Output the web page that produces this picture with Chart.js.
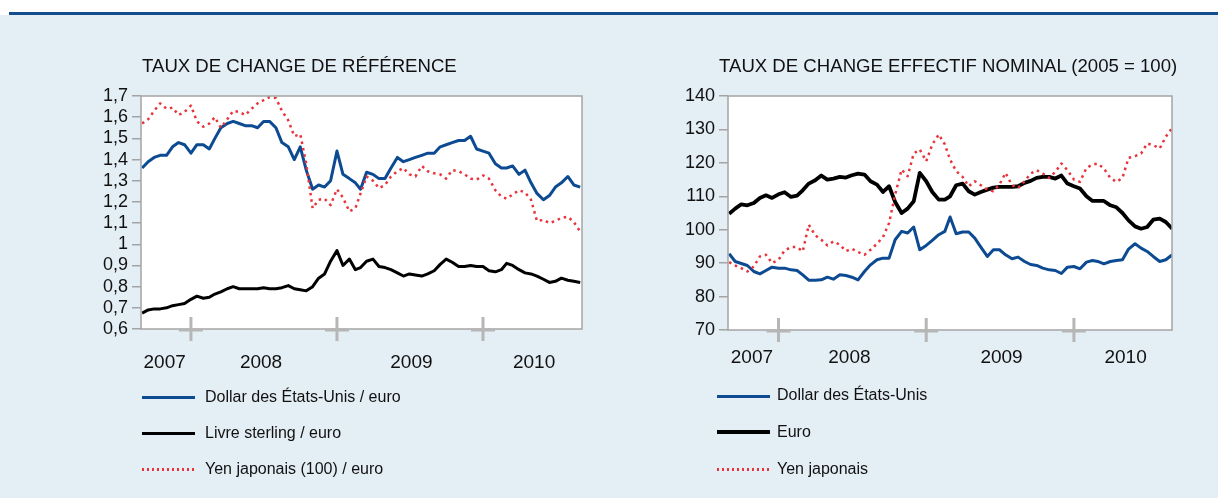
<!DOCTYPE html>
<html>
<head>
<meta charset="utf-8">
<script src="https://cdn.jsdelivr.net/npm/chart.js@4/dist/chart.umd.min.js"></script>
<style>
  body { margin: 0; width: 1218px; height: 498px; background: #fff; overflow: hidden;
         font-family: "Liberation Sans", Arial, sans-serif; color: #111; }
  #rule { position: absolute; left: 9px; right: 0; top: 12px; height: 3px; background: #124d8e; }
  #panel { position: absolute; left: 0; right: 0; top: 15px; bottom: 0; background: #e4eef5; }
  .box { position: absolute; top: 0; width: 609px; height: 498px; }
  .title { position: absolute; top: 57px; font-size: 18.6px; line-height: 18px; white-space: nowrap; }
  .swatch { position: absolute; width: 53px; }
  .ltext { position: absolute; font-size: 16px; line-height: 18px; white-space: nowrap; }
</style>
</head>
<body>
<div id="rule"></div>
<div id="panel"></div>
<div class="box" style="left:0"><canvas id="refChart"></canvas></div>
<div class="box" style="left:609px"><canvas id="effChart"></canvas></div>
<div class="title" style="left:142px">TAUX DE CHANGE DE RÉFÉRENCE</div>
<div class="title" style="left:719px">TAUX DE CHANGE EFFECTIF NOMINAL (2005 = 100)</div>

<div class="swatch" style="left:142px;top:396px;height:3px;background:#0c4a91"></div>
<div class="ltext" style="left:205px;top:388px">Dollar des États-Unis / euro</div>
<div class="swatch" style="left:142px;top:432px;height:2.5px;background:#000"></div>
<div class="ltext" style="left:205px;top:424px">Livre sterling / euro</div>
<div class="swatch" style="left:142px;top:468px;height:2.5px;background:repeating-linear-gradient(to right,#e8333a 0 2.5px,transparent 2.5px 5px)"></div>
<div class="ltext" style="left:205px;top:460px">Yen japonais (100) / euro</div>

<div class="swatch" style="left:717px;top:395px;height:2.5px;background:#0c4a91"></div>
<div class="ltext" style="left:777px;top:386px">Dollar des États-Unis</div>
<div class="swatch" style="left:717px;top:430px;height:3.5px;background:#000"></div>
<div class="ltext" style="left:777px;top:423px">Euro</div>
<div class="swatch" style="left:717px;top:468px;height:2.5px;background:repeating-linear-gradient(to right,#e8333a 0 2.5px,transparent 2.5px 5px)"></div>
<div class="ltext" style="left:777px;top:460px">Yen japonais</div>

<script>
// half-monthly observations, Sept 2007 - Sept 2010
const dates = [
  '2007-09-01','2007-09-16','2007-10-01','2007-10-16','2007-11-01','2007-11-16','2007-12-01','2007-12-16',
  '2008-01-01','2008-01-16','2008-02-01','2008-02-16','2008-03-01','2008-03-16','2008-04-01','2008-04-16',
  '2008-05-01','2008-05-16','2008-06-01','2008-06-16','2008-07-01','2008-07-16','2008-08-01','2008-08-16',
  '2008-09-01','2008-09-16','2008-10-01','2008-10-16','2008-11-01','2008-11-16','2008-12-01','2008-12-16',
  '2009-01-01','2009-01-16','2009-02-01','2009-02-16','2009-03-01','2009-03-16','2009-04-01','2009-04-16',
  '2009-05-01','2009-05-16','2009-06-01','2009-06-16','2009-07-01','2009-07-16','2009-08-01','2009-08-16',
  '2009-09-01','2009-09-16','2009-10-01','2009-10-16','2009-11-01','2009-11-16','2009-12-01','2009-12-16',
  '2010-01-01','2010-01-16','2010-02-01','2010-02-16','2010-03-01','2010-03-16','2010-04-01','2010-04-16',
  '2010-05-01','2010-05-16','2010-06-01','2010-06-16','2010-07-01','2010-07-16','2010-08-01','2010-08-16',
  '2010-09-01'
]

// left chart: reference rates
const usdEur = [
  1.36,1.39,1.41,1.42,1.42,1.46,1.48,1.47,1.43,1.47,
  1.47,1.45,1.50,1.55,1.57,1.58,1.57,1.56,1.56,1.55,
  1.58,1.58,1.55,1.48,1.46,1.40,1.46,1.35,1.26,1.28,
  1.27,1.30,1.44,1.33,1.31,1.29,1.26,1.34,1.33,1.31,
  1.31,1.36,1.41,1.39,1.40,1.41,1.42,1.43,1.43,1.46,
  1.47,1.48,1.49,1.49,1.51,1.45,1.44,1.43,1.38,1.36,
  1.36,1.37,1.33,1.35,1.29,1.24,1.21,1.23,1.27,1.29,
  1.32,1.28,1.27
]
const gbpEur = [
  0.675,0.69,0.695,0.695,0.70,0.71,0.715,0.72,0.74,0.755,
  0.745,0.75,0.765,0.775,0.79,0.80,0.79,0.79,0.79,0.79,
  0.795,0.79,0.79,0.795,0.805,0.79,0.785,0.78,0.80,0.84,
  0.86,0.92,0.97,0.90,0.93,0.88,0.89,0.92,0.93,0.895,
  0.89,0.88,0.865,0.85,0.86,0.855,0.85,0.86,0.875,0.905,
  0.93,0.915,0.895,0.895,0.90,0.895,0.895,0.875,0.87,0.88,
  0.91,0.90,0.88,0.865,0.86,0.85,0.835,0.82,0.825,0.84,
  0.83,0.825,0.82
]
const jpyEur = [
  1.57,1.59,1.63,1.665,1.64,1.645,1.61,1.625,1.655,1.58,
  1.555,1.57,1.60,1.55,1.59,1.63,1.625,1.61,1.64,1.665,
  1.68,1.695,1.69,1.63,1.585,1.51,1.52,1.38,1.17,1.21,
  1.215,1.185,1.26,1.22,1.155,1.17,1.24,1.32,1.30,1.265,
  1.28,1.32,1.345,1.36,1.33,1.32,1.37,1.345,1.335,1.33,
  1.31,1.35,1.345,1.33,1.31,1.305,1.325,1.31,1.255,1.225,
  1.215,1.235,1.255,1.245,1.21,1.11,1.115,1.10,1.11,1.125,
  1.13,1.105,1.06
]

// right chart: nominal effective rates (2005 = 100)
const usdEff = [
  92.8,90.5,89.9,89.3,87.5,86.8,87.8,88.8,88.5,88.5,
  88.0,87.8,86.5,84.9,84.9,85.0,85.8,85.2,86.5,86.3,
  85.8,85.0,87.5,89.5,91.0,91.5,91.5,97.0,99.5,99.0,
  100.8,94.0,95.3,96.8,98.5,99.5,103.8,98.8,99.3,99.3,
  97.5,94.8,92.0,94.0,94.0,92.5,91.3,91.8,90.5,89.6,
  89.3,88.5,88.0,87.8,86.9,88.8,89.0,88.3,90.3,90.8,
  90.5,89.8,90.5,90.8,91.0,94.2,95.8,94.5,93.5,92.0,
  90.5,91.0,92.5
]
const euroEff = [
  104.8,106.3,107.6,107.3,108.0,109.5,110.3,109.5,110.6,111.2,
  109.8,110.2,111.8,113.8,114.8,116.2,115.0,115.3,115.8,115.6,
  116.3,116.8,116.5,114.5,113.5,111.3,113.0,108.3,105.0,106.3,
  108.5,117.0,114.5,111.3,109.0,109.0,110.0,113.3,113.8,111.5,
  110.5,111.3,112.0,112.6,112.8,112.8,112.8,113.0,114.0,114.6,
  115.5,115.8,115.8,115.3,116.2,113.8,113.0,112.3,110.0,108.6,
  108.6,108.6,107.3,106.7,105.0,102.8,101.0,100.3,100.8,103.0,
  103.3,102.3,100.3
]
const jpyEff = [
  90.3,89.3,88.5,87.5,89.0,92.0,92.5,90.0,91.0,93.8,
  94.8,94.8,93.5,101.5,98.3,97.0,95.3,96.5,95.5,93.6,
  94.3,93.3,92.5,94.0,95.8,97.8,102.0,110.5,118.0,116.0,
  122.8,124.0,120.5,125.5,128.5,125.5,121.0,117.5,115.8,113.0,
  114.5,113.3,112.0,111.5,113.5,117.0,113.3,112.5,114.5,116.8,
  117.8,116.8,115.5,117.3,119.8,117.8,115.0,114.3,118.5,119.5,
  119.8,118.3,115.5,114.3,115.5,121.5,122.0,122.8,125.8,125.3,
  124.3,127.8,130.5
]

const yearLabels = ['2007', '2008', '2009', '2010']
const yearLabelPos = [2007.82, 2008.48, 2009.51, 2010.35]
const yearBreaks = [2008, 2009, 2010]

const BLUE = '#0c4a91'
const RED = '#e8333a'
const FONT = '"Liberation Sans", Arial, sans-serif'

const toYear = (s) => {
  const d = new Date(s + 'T00:00:00Z')
  const y = d.getUTCFullYear()
  const a = Date.UTC(y, 0, 1)
  const b = Date.UTC(y + 1, 0, 1)
  return y + (d.getTime() - a) / (b - a)
}
const xs = dates.map(toYear)
const pts = (vals) => vals.map((v, i) => ({ x: xs[i], y: v }))

const frame = {
  id: 'frame',
  beforeDatasetsDraw(chart) {
    const { ctx, chartArea: a } = chart
    ctx.save()
    ctx.fillStyle = '#fff'
    ctx.fillRect(a.left, a.top, a.right - a.left, a.bottom - a.top)
    ctx.restore()
  },
  afterDatasetsDraw(chart, args, opts) {
    const { ctx, chartArea: a, scales } = chart
    const x = scales.x
    ctx.save()
    ctx.strokeStyle = '#a4a4a4'
    ctx.lineWidth = 1.5
    ctx.strokeRect(a.left, a.top, a.right - a.left, a.bottom - a.top)

    ctx.strokeStyle = '#b6b6b6'
    ctx.lineWidth = 3
    yearBreaks.forEach((v) => {
      const px = x.getPixelForValue(v)
      ctx.beginPath()
      ctx.moveTo(px, a.bottom - 12)
      ctx.lineTo(px, a.bottom + 12)
      ctx.moveTo(px - 12, a.bottom + 1)
      ctx.lineTo(px + 12, a.bottom + 1)
      ctx.stroke()
    })

    ctx.fillStyle = '#111'
    ctx.font = '19px ' + FONT
    ctx.textAlign = 'center'
    ctx.textBaseline = 'middle'
    yearLabels.forEach((t, i) => {
      ctx.fillText(t, x.getPixelForValue(yearLabelPos[i]), a.bottom + opts.labelOffset)
    })
    ctx.restore()
  },
}

function makeChart(id, sets, yOpts, xMax, padding, labelOffset) {
  return new Chart(document.getElementById(id), {
    type: 'line',
    data: {
      datasets: sets.map((s) => ({
        data: pts(s.values),
        borderColor: s.color,
        borderWidth: s.width,
        borderDash: s.dash || [],
        borderCapStyle: 'butt',
        borderJoinStyle: 'round',
        pointRadius: 0,
        tension: 0,
        order: s.order,
      })),
    },
    options: {
      responsive: true,
      maintainAspectRatio: false,
      animation: false,
      layout: { padding: padding },
      plugins: { legend: { display: false }, tooltip: { enabled: false }, frame: { labelOffset: labelOffset } },
      scales: {
        x: { type: 'linear', min: 2007.658, max: xMax, display: false },
        y: Object.assign({
          afterFit: (s) => { s.width = 60 },
          border: { display: false },
          grid: { drawOnChartArea: false, drawTicks: true, tickLength: 9, color: '#a4a4a4', lineWidth: 1.5 },
        }, yOpts),
      },
    },
    plugins: [frame],
  })
}

makeChart('refChart', [
  { values: usdEur, color: BLUE, width: 3, order: 3 },
  { values: gbpEur, color: '#000', width: 3, order: 2 },
  { values: jpyEur, color: RED, width: 2.5, dash: [2.5, 4], order: 1 },
], {
  min: 0.6, max: 1.7,
  ticks: {
    color: '#111', font: { family: FONT, size: 18 }, padding: 4, stepSize: 0.1, autoSkip: false,
    callback: (v) => String(Number(v.toFixed(1))).replace('.', ','),
  },
}, 2010.678, { left: 81, top: 96, right: 27, bottom: 169 }, 34)

makeChart('effChart', [
  { values: usdEff, color: BLUE, width: 3, order: 3 },
  { values: euroEff, color: '#000', width: 3.8, order: 2 },
  { values: jpyEff, color: RED, width: 2.5, dash: [2.5, 4], order: 1 },
], {
  min: 70, max: 140,
  ticks: { color: '#111', font: { family: FONT, size: 18 }, padding: 4, stepSize: 10, autoSkip: false },
}, 2010.664, { left: 59, top: 96, right: 46, bottom: 168 }, 28)
</script>
</body>
</html>
